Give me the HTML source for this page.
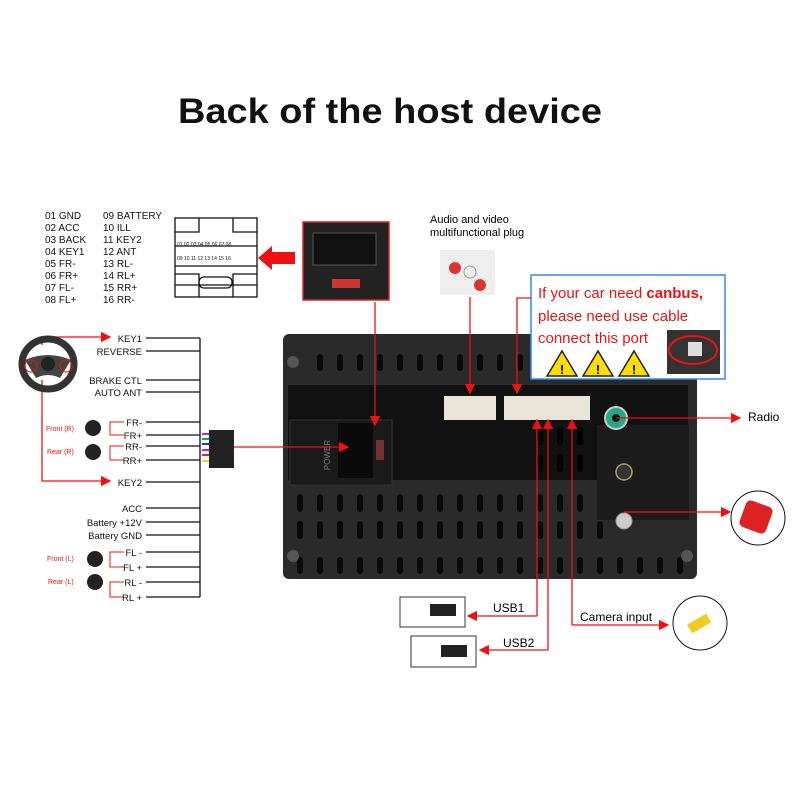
<!DOCTYPE html><html><head><style>body{margin:0;background:#fff}svg{display:block}text{font-family:"Liberation Sans",sans-serif}</style></head><body>
<svg width="800" height="800" viewBox="0 0 800 800">
<defs><marker id="a" markerWidth="8" markerHeight="8" refX="7" refY="4" orient="auto"><path d="M0,0L8,4L0,8z" fill="#e11"/></marker>
<pattern id="s1" x="310" y="352" width="20" height="30" patternUnits="userSpaceOnUse"><rect x="7" y="2" width="6" height="17" rx="3" fill="#0a0a0a"/></pattern>
<pattern id="s2" x="290" y="492" width="20" height="27" patternUnits="userSpaceOnUse"><rect x="7" y="2" width="6" height="18" rx="3" fill="#0a0a0a"/></pattern>
<pattern id="s3" x="290" y="555" width="20" height="30" patternUnits="userSpaceOnUse"><rect x="7" y="2" width="6" height="17" rx="3" fill="#0a0a0a"/></pattern>
<pattern id="s4" x="530" y="425" width="20" height="27" patternUnits="userSpaceOnUse"><rect x="7" y="2" width="6" height="18" rx="3" fill="#000"/></pattern></defs>
<text x="390" y="123" font-size="35" font-weight="bold" text-anchor="middle" fill="#111" textLength="424" lengthAdjust="spacingAndGlyphs">Back of the host device</text>
<g font-size="10" fill="#111">
<text x="45" y="219">01  GND</text><text x="45" y="231">02  ACC</text><text x="45" y="243">03  BACK</text><text x="45" y="255">04  KEY1</text><text x="45" y="267">05  FR-</text><text x="45" y="279">06  FR+</text><text x="45" y="291">07  FL-</text><text x="45" y="303">08  FL+</text>
<text x="103" y="219">09  BATTERY</text><text x="103" y="231">10  ILL</text><text x="103" y="243">11  KEY2</text><text x="103" y="255">12  ANT</text><text x="103" y="267">13  RL-</text><text x="103" y="279">14  RL+</text><text x="103" y="291">15  RR+</text><text x="103" y="303">16  RR-</text>
</g>
<g fill="none" stroke="#111" stroke-width="1.3"><rect x="175" y="218" width="82" height="79"/><path d="M175,232H199V218M233,218V232H257M175,266H257M175,285H257M199,297V274H175M233,297V274H257M175,246H257"/><rect x="199" y="277" width="33" height="11" rx="5"/></g>
<g font-size="5" fill="#111"><text x="177" y="246">01 02 03 04 05 06 07 08</text><text x="177" y="260">09 10 11 12 13 14 15 16</text></g>
<path d="M295,252H272V246L258,258L272,270V264H295z" fill="#e11"/>
<rect x="303" y="222" width="86" height="78" fill="#222" stroke="#d22" stroke-width="1.5"/><rect x="313" y="233" width="63" height="32" fill="#111" stroke="#555"/><rect x="332" y="279" width="28" height="9" fill="#c33"/>
<text x="430" y="223" font-size="11">Audio and video</text><text x="430" y="236" font-size="11">multifunctional plug</text>
<rect x="440" y="250" width="55" height="45" fill="#eee"/><circle cx="455" cy="268" r="6" fill="#d33"/><circle cx="470" cy="272" r="6" fill="#eee" stroke="#999"/><circle cx="480" cy="285" r="6" fill="#d33"/>
<rect x="283" y="334" width="414" height="245" rx="6" fill="#2a2a2a"/>
<rect x="288" y="385" width="400" height="95" fill="#111"/>
<rect x="310" y="350" width="380" height="24" fill="url(#s1)"/>
<rect x="290" y="492" width="320" height="54" fill="url(#s2)"/>
<rect x="290" y="555" width="400" height="22" fill="url(#s3)"/>
<rect x="530" y="425" width="60" height="54" fill="url(#s4)"/>
<rect x="290" y="420" width="102" height="65" fill="#1a1a1a" stroke="#333"/><rect x="338" y="423" width="35" height="55" fill="#0a0a0a"/><rect x="376" y="440" width="8" height="20" fill="#733"/>
<text x="330" y="455" font-size="8" fill="#777" transform="rotate(-90 330 455)" text-anchor="middle">POWER</text>
<circle cx="293" cy="362" r="6" fill="#555"/><circle cx="293" cy="556" r="6" fill="#555"/><circle cx="687" cy="556" r="6" fill="#555"/>
<rect x="444" y="396" width="52" height="24" fill="#e8e4d8"/><rect x="504" y="396" width="86" height="24" fill="#e8e4d8"/>
<rect x="597" y="425" width="92" height="95" fill="#1c1c1c"/>
<circle cx="616" cy="418" r="11" fill="#2a8" stroke="#ccc" stroke-width="2"/><circle cx="616" cy="418" r="4" fill="#111"/>
<circle cx="624" cy="472" r="8" fill="#333" stroke="#a96" stroke-width="1.5"/><circle cx="624" cy="521" r="8" fill="#ccc" stroke="#999"/>
<rect x="531" y="275" width="194" height="104" fill="#fff" stroke="#38e" stroke-width="1.5"/>
<text x="538" y="298" font-size="15" fill="#e11">If your car need <tspan font-weight="bold">canbus,</tspan></text>
<text x="538" y="321" font-size="15" fill="#e11">please need use cable</text>
<text x="538" y="343" font-size="15" fill="#e11">connect this port</text>
<g fill="#fd0" stroke="#222" stroke-width="1.5"><path d="M547,376L562,351L577,376z"/><path d="M583,376L598,351L613,376z"/><path d="M619,376L634,351L649,376z"/></g>
<g font-size="13" font-weight="bold" text-anchor="middle"><text x="562" y="374">!</text><text x="598" y="374">!</text><text x="634" y="374">!</text></g>
<rect x="667" y="330" width="53" height="44" fill="#333"/><ellipse cx="693" cy="350" rx="24" ry="14" fill="none" stroke="#e11" stroke-width="2"/><rect x="688" y="342" width="14" height="14" fill="#ddd"/>
<g stroke="#e11" stroke-width="1.3" fill="none">
<path d="M375,302V425" marker-end="url(#a)"/>
<path d="M470,297V393" marker-end="url(#a)"/>
<path d="M531,298H517V393" marker-end="url(#a)"/>
<path d="M616,418H740" marker-end="url(#a)"/><path d="M624,512H730" marker-end="url(#a)"/>
<path d="M537,616V420" marker-end="url(#a)"/><path d="M548,650V420" marker-end="url(#a)"/><path d="M572,625V420" marker-end="url(#a)"/>
<path d="M537,616H468" marker-end="url(#a)"/><path d="M548,650H480" marker-end="url(#a)"/><path d="M572,625H668" marker-end="url(#a)"/>
<path d="M232,447H348" marker-end="url(#a)"/>
<path d="M42,345V337H110" marker-end="url(#a)"/><path d="M42,380V481H110" marker-end="url(#a)"/>
</g>
<text x="748" y="421" font-size="12">Radio</text>
<text x="493" y="612" font-size="12">USB1</text><text x="503" y="647" font-size="12">USB2</text><text x="580" y="621" font-size="12">Camera input</text>
<rect x="400" y="597" width="65" height="30" fill="#fff" stroke="#333"/><rect x="430" y="604" width="26" height="12" fill="#222"/>
<rect x="411" y="636" width="65" height="31" fill="#fff" stroke="#333"/><rect x="441" y="645" width="26" height="12" fill="#222"/>
<circle cx="700" cy="623" r="27" fill="#fff" stroke="#111"/><rect x="688" y="618" width="22" height="10" fill="#ec2" transform="rotate(-30 700 623)"/>
<circle cx="758" cy="518" r="27" fill="#fff" stroke="#111"/><rect x="742" y="503" width="28" height="28" rx="5" fill="#d22" transform="rotate(20 756 517)"/>
<ellipse cx="48" cy="364" rx="26" ry="25" fill="none" stroke="#333" stroke-width="7"/><path d="M25,360Q48,350 71,360L60,378Q48,372 36,378z" fill="#444"/><circle cx="48" cy="364" r="7" fill="#222"/>
<circle cx="31" cy="366" r="6" fill="none" stroke="#e11"/><circle cx="66" cy="366" r="6" fill="none" stroke="#e11"/>
<g stroke="#111" stroke-width="1.3" fill="none"><path d="M200,338V597"/>
<path d="M146,338H200M146,351H200M146,380H200M146,392H200M146,422H200M146,435H200M146,446H200M146,460H200M146,482H200M146,508H200M146,522H200M146,535H200M146,552H200M146,567H200M146,582H200M146,597H200"/></g>
<g font-size="9.5" text-anchor="end" fill="#111">
<text x="142" y="342">KEY1</text><text x="142" y="355">REVERSE</text><text x="142" y="384">BRAKE CTL</text><text x="142" y="396">AUTO ANT</text><text x="142" y="426">FR-</text><text x="142" y="439">FR+</text><text x="142" y="450">RR-</text><text x="142" y="464">RR+</text><text x="142" y="486">KEY2</text><text x="142" y="512">ACC</text><text x="142" y="526">Battery +12V</text><text x="142" y="539">Battery GND</text><text x="142" y="556">FL -</text><text x="142" y="571">FL +</text><text x="142" y="586">RL -</text><text x="142" y="601">RL +</text></g>
<g fill="#222"><circle cx="93" cy="428" r="8"/><circle cx="93" cy="452" r="8"/><circle cx="95" cy="559" r="8"/><circle cx="95" cy="582" r="8"/></g>
<g font-size="7" fill="#e11"><text x="46" y="431">Front (R)</text><text x="47" y="454">Rear (R)</text><text x="47" y="561">Front (L)</text><text x="48" y="584">Rear (L)</text></g>
<g stroke="#e11" fill="none" stroke-width="1"><path d="M124,422H110V435H124M124,446H110V460H124M124,552H110V567H124M124,582H110V597H124"/></g>
<rect x="209" y="430" width="25" height="38" fill="#222"/><g stroke-width="2"><path d="M202,434H209" stroke="#84c"/><path d="M202,439H209" stroke="#2a4"/><path d="M202,444H209" stroke="#33c"/><path d="M202,450H209" stroke="#a3c"/><path d="M202,455H209" stroke="#c33"/><path d="M202,461H209" stroke="#dd2"/></g>
</svg></body></html>
